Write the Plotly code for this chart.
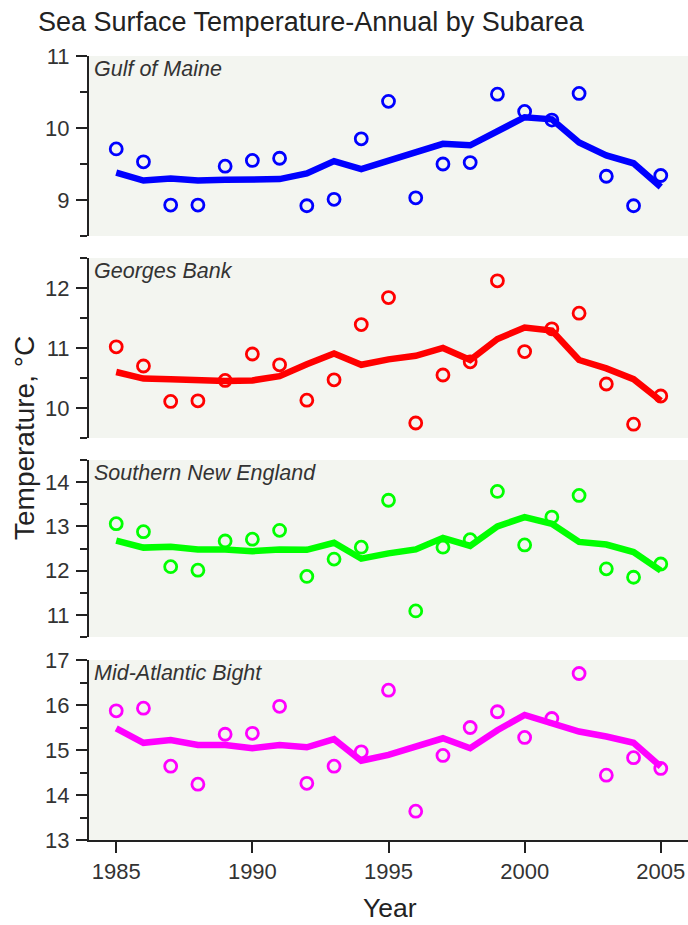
import plotly.graph_objects as go

years = list(range(1985, 2006))

gom_obs = [9.71, 9.53, 8.93, 8.93, 9.47, 9.55, 9.58, 8.92, 9.01, 9.85, 10.37,
           9.03, 9.50, 9.52, 10.47, 10.23, 10.11, 10.48, 9.33, 8.92, 9.34]
gom_trend = [9.38, 9.27, 9.30, 9.27, 9.28, 9.28, 9.29, 9.37, 9.54, 9.43, 9.55,
             9.66, 9.78, 9.76, 9.96, 10.15, 10.12, 9.80, 9.62, 9.51, 9.18]

gb_obs = [11.02, 10.70, 10.11, 10.12, 10.46, 10.90, 10.72, 10.13, 10.47, 11.39, 11.84,
          9.75, 10.55, 10.77, 12.12, 10.94, 11.32, 11.58, 10.40, 9.73, 10.20]
gb_trend = [10.60, 10.49, 10.48, 10.46, 10.45, 10.46, 10.53, 10.73, 10.91, 10.72, 10.81,
            10.87, 11.00, 10.80, 11.15, 11.34, 11.29, 10.80, 10.66, 10.48, 10.12]

sne_obs = [13.06, 12.88, 12.09, 12.01, 12.67, 12.71, 12.91, 11.87, 12.26, 12.53, 13.59,
           11.09, 12.53, 12.70, 13.79, 12.58, 13.21, 13.70, 12.04, 11.85, 12.15]
sne_trend = [12.68, 12.52, 12.54, 12.48, 12.48, 12.44, 12.48, 12.47, 12.63, 12.27, 12.39,
             12.48, 12.74, 12.56, 13.00, 13.21, 13.06, 12.65, 12.59, 12.42, 12.00]

mab_obs = [15.87, 15.93, 14.64, 14.24, 15.35, 15.37, 15.97, 14.26, 14.64, 14.96, 16.33,
           13.64, 14.88, 15.50, 15.85, 15.28, 15.70, 16.70, 14.44, 14.83, 14.59]
mab_trend = [15.48, 15.16, 15.22, 15.11, 15.11, 15.04, 15.11, 15.06, 15.24, 14.76, 14.89,
             15.07, 15.26, 15.04, 15.44, 15.78, 15.59, 15.41, 15.30, 15.16, 14.63]

panel_names = ["Gulf of Maine", "Georges Bank", "Southern New England", "Mid-Atlantic Bight"]
panel_obs = [gom_obs, gb_obs, sne_obs, mab_obs]
panel_trend = [gom_trend, gb_trend, sne_trend, mab_trend]
panel_colors = ["#0000FF", "#FF0000", "#00FF00", "#FF00FF"]
panel_ranges = [[8.5, 11], [9.5, 12.5], [10.5, 14.5], [13, 17]]
x_ticks = [1985, 1990, 1995, 2000, 2005]

W, H = 688, 925
L, R, T, B = 89, 0, 56, H - 840
plot_h = H - T - B

def frac(page_y):
    return (H - B - page_y) / plot_h

def fracx(page_x):
    return (page_x - L) / (W - L - R)

panel_px = [(56, 236), (258, 438), (460, 637), (660, 840)]
domains = [[frac(b), frac(t)] for (t, b) in panel_px]
domains[0][1] = 1.0
domains[3][0] = 0.0

FONT = "Liberation Sans, Arial, sans-serif"
tick_font = dict(family=FONT, size=22, color="#333333")

fig = go.Figure()
for i in range(4):
    xa = "x" if i == 0 else f"x{i+1}"
    ya = "y" if i == 0 else f"y{i+1}"
    fig.add_trace(go.Scatter(x=years, y=panel_trend[i], mode="lines",
                             line=dict(color=panel_colors[i], width=6.5),
                             xaxis=xa, yaxis=ya, showlegend=False))
    fig.add_trace(go.Scatter(x=years, y=panel_obs[i], mode="markers",
                             marker=dict(symbol="circle-open", size=12,
                                         line=dict(color=panel_colors[i], width=2.8),
                                         color=panel_colors[i]),
                             xaxis=xa, yaxis=ya, showlegend=False))
    last = (i == 3)
    xkey = "xaxis" if i == 0 else f"xaxis{i+1}"
    ykey = "yaxis" if i == 0 else f"yaxis{i+1}"
    fig.layout[xkey] = dict(
        domain=[0, 1], range=[1984.0, 2006.0], anchor=ya,
        showgrid=False, zeroline=False,
        showline=last, linecolor="#222222", linewidth=2,
        ticks="outside" if last else "", ticklen=11, tickwidth=2, tickcolor="#222222",
        tickvals=x_ticks if last else [], showticklabels=last,
        tickfont=tick_font,
    )
    if i > 0:
        fig.layout[xkey]["matches"] = "x"
    fig.layout[ykey] = dict(
        domain=domains[i], range=panel_ranges[i], anchor=xa,
        showgrid=False, zeroline=False,
        showline=True, linecolor="#222222", linewidth=2,
        ticks="outside", ticklen=11, tickwidth=2, tickcolor="#222222",
        dtick=1, tick0=0, tickfont=tick_font, ticklabelstandoff=2,
        minor=dict(ticks="outside", dtick=0.5, tick0=0, ticklen=7, tickwidth=2,
                   tickcolor="#222222", showgrid=False),
    )
    fig.add_annotation(text=f"<i>{panel_names[i]}</i>", xref=f"{xa} domain", yref=f"{ya} domain",
                       x=0.0, y=1.0, xshift=3, yshift=1, xanchor="left", yanchor="top",
                       showarrow=False,
                       font=dict(family=FONT, size=21.5, color="#333333"))

fig.add_annotation(text="Temperature, °C", xref="paper", yref="paper",
                   x=fracx(24), y=frac(438), textangle=-90,
                   xanchor="center", yanchor="middle", showarrow=False,
                   font=dict(family=FONT, size=28, color="#222222"))
fig.add_annotation(text="Year", xref="paper", yref="paper",
                   x=fracx(390), y=frac(908), xanchor="center", yanchor="middle", showarrow=False,
                   font=dict(family=FONT, size=26.5, color="#222222"))

fig.update_layout(
    width=W, height=H,
    margin=dict(l=L, r=R, t=T, b=B),
    paper_bgcolor="white", plot_bgcolor="#F3F5F0",
    hovermode=False,
    title=dict(text="Sea Surface Temperature-Annual by Subarea", x=38 / W, xref="container",
               xanchor="left", y=1 - 22 / H, yref="container", yanchor="middle",
               font=dict(family=FONT, size=27, color="#222222")),
)

# remove the browser's default 8 px page margin so the figure fills the window exactly
fig.write_html("out.html",
               config={"displayModeBar": False, "staticPlot": True},
               post_script="document.body.style.margin='0';document.body.style.overflow='hidden';")
